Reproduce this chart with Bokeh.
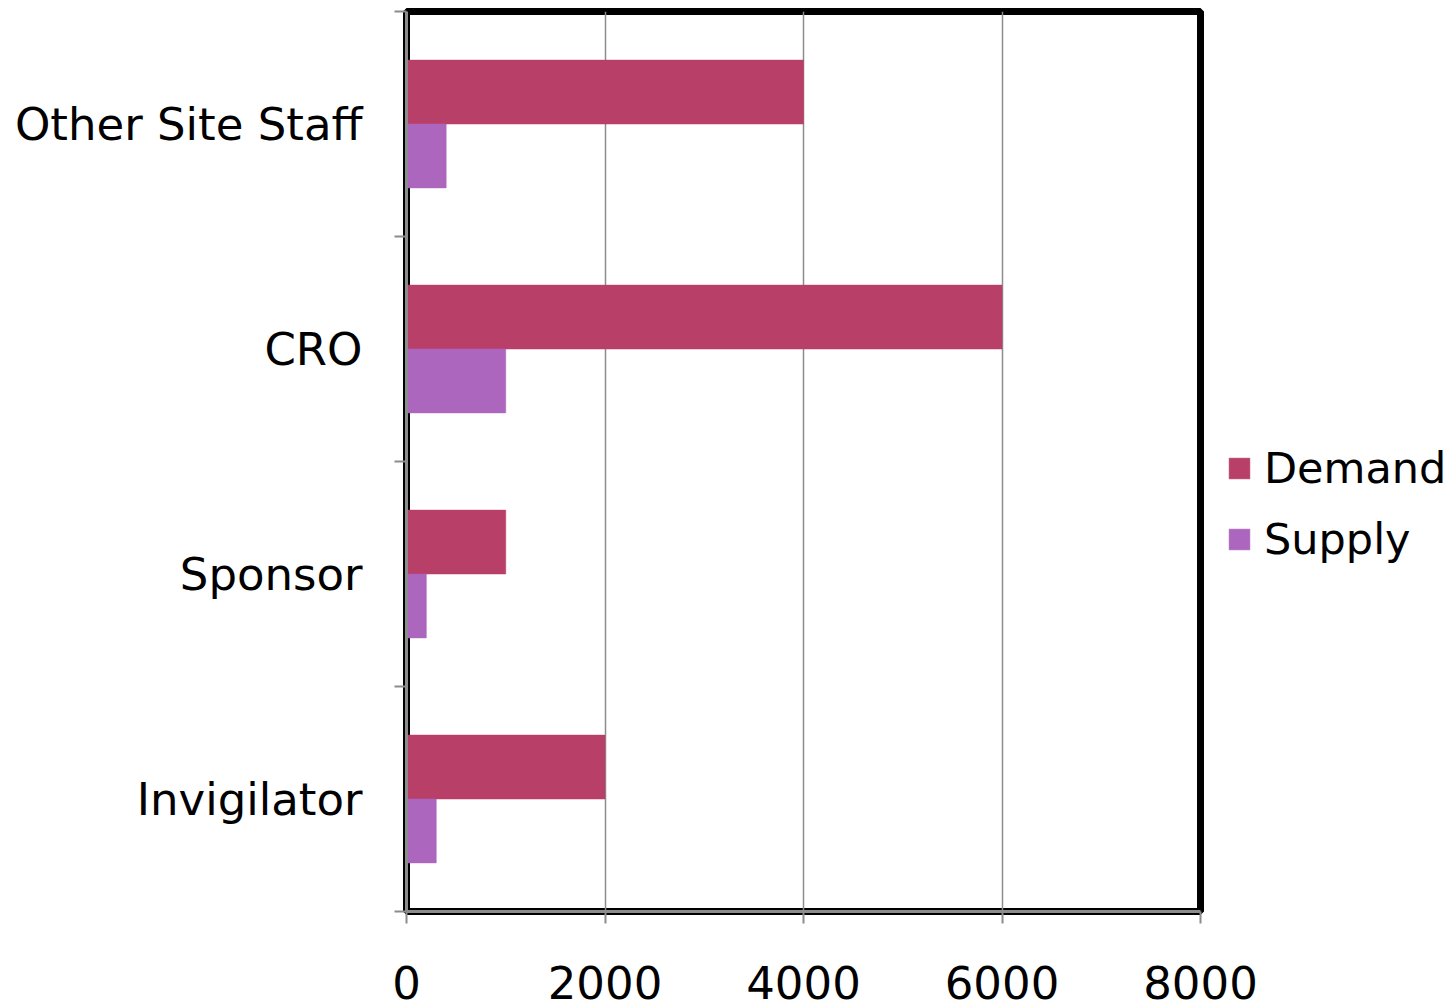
from bokeh.plotting import figure
from bokeh.models import FixedTicker, Legend, LegendItem, ColumnDataSource, Range1d
from bokeh.transform import dodge
from bokeh.embed import file_html
from bokeh.resources import INLINE

categories = ["Invigilator", "Sponsor", "CRO", "Other Site Staff"]
demand = [2000, 1000, 6000, 4000]
supply = [300, 200, 1000, 400]
x_ticks = [0, 2000, 4000, 6000, 8000]

FONT = "DejaVu Sans"
FS = "45px"
LFS = "43px"
DEMAND_COLOR = "#B83F68"
SUPPLY_COLOR = "#AC66BE"
GRAY = "#8c8c8c"

pos = [i + 0.5 for i in range(len(categories))]
src = ColumnDataSource(dict(y=pos, demand=demand, supply=supply))

p = figure(frame_width=794, frame_height=900, output_backend="svg", toolbar_location=None,
           x_range=Range1d(0, 8000), y_range=Range1d(0, len(categories)),
           min_border_left=406, min_border_top=11, min_border_right=0, min_border_bottom=97)

bh = 0.284
r1 = p.hbar(y=dodge("y", bh / 2, range=p.y_range), right="demand", left=0, height=bh,
            source=src, fill_color=DEMAND_COLOR, line_color=DEMAND_COLOR, line_width=0.5)
r2 = p.hbar(y=dodge("y", -bh / 2, range=p.y_range), right="supply", left=0, height=bh,
            source=src, fill_color=SUPPLY_COLOR, line_color=SUPPLY_COLOR, line_width=0.5)

p.outline_line_color = "black"
p.outline_line_width = 7
p.background_fill_color = "white"
p.border_fill_color = "white"

# x axis
p.xaxis.ticker = FixedTicker(ticks=x_ticks)
p.xaxis.axis_line_color = GRAY
p.xaxis.axis_line_width = 3
p.xaxis.major_tick_line_color = GRAY
p.xaxis.major_tick_line_width = 2
p.xaxis.major_tick_out = 12
p.xaxis.major_tick_in = 0
p.xaxis.minor_tick_line_color = None
p.xaxis.major_label_text_font = FONT
p.xaxis.major_label_text_font_size = FS
p.xaxis.major_label_text_color = "black"
p.xaxis.major_label_standoff = 42

# y axis
p.yaxis.ticker = FixedTicker(ticks=pos, minor_ticks=list(range(len(categories) + 1)))
p.yaxis.major_label_overrides = {pv: c for pv, c in zip(pos, categories)}
p.yaxis.axis_line_color = GRAY
p.yaxis.axis_line_width = 3
p.yaxis.major_tick_line_color = None
p.yaxis.major_tick_out = 0
p.yaxis.major_tick_in = 0
p.yaxis.minor_tick_line_color = GRAY
p.yaxis.minor_tick_line_width = 2
p.yaxis.minor_tick_out = 12
p.yaxis.minor_tick_in = 0
p.yaxis.major_label_text_font = FONT
p.yaxis.major_label_text_font_size = FS
p.yaxis.major_label_text_color = "black"
p.yaxis.major_label_standoff = 32

p.xgrid.grid_line_color = GRAY
p.xgrid.grid_line_width = 1.5
p.ygrid.grid_line_color = None

legend = Legend(items=[LegendItem(label="Demand", renderers=[r1]),
                       LegendItem(label="Supply", renderers=[r2])],
                location=(26, 347), orientation="vertical",
                glyph_width=26, glyph_height=26, label_standoff=12, spacing=21,
                padding=0, margin=0, border_line_color=None, background_fill_alpha=0,
                label_text_font=FONT, label_text_font_size=LFS, label_text_color="black")
p.add_layout(legend, "right")

open("out.html", "w").write(file_html(p, INLINE))
